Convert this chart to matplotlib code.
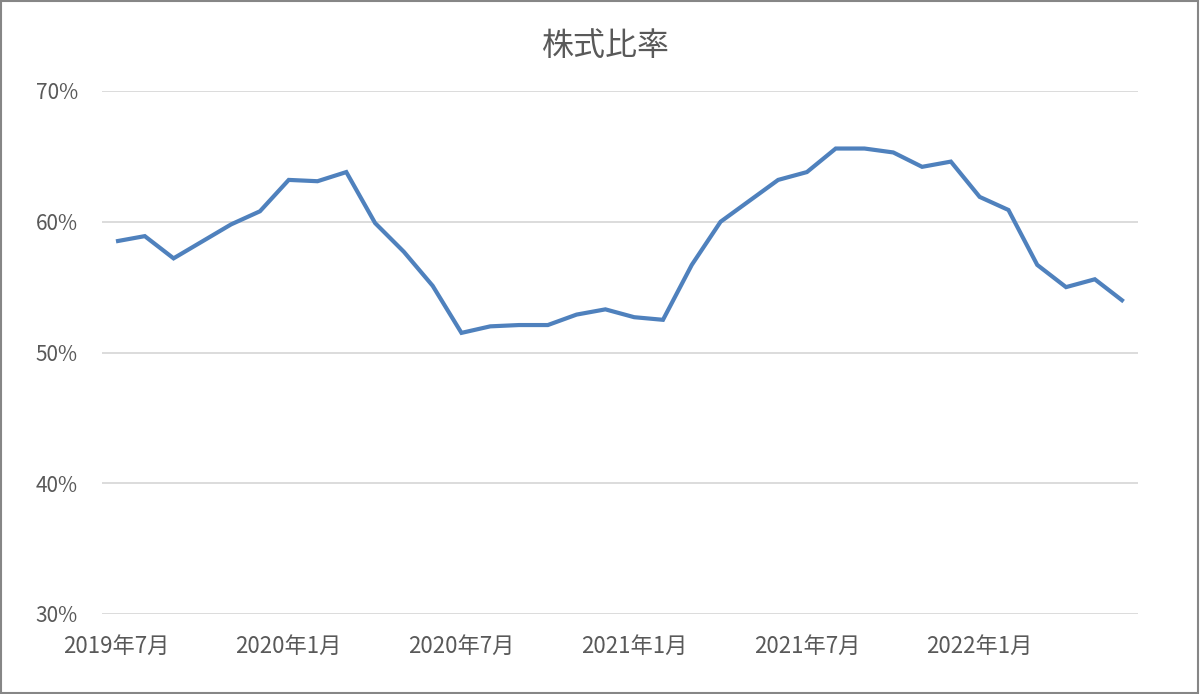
#株式比率 (stock ratio) monthly line chart
import matplotlib
matplotlib.use("Agg")
import matplotlib.pyplot as plt
from matplotlib.ticker import FuncFormatter
from matplotlib.patches import Rectangle

plt.rcParams['font.family'] = ['Noto Sans CJK JP', 'DejaVu Sans']

MONTHS = []                                                     #Stores month labels 2019-07 .. 2022-06
for y in range(2019, 2023):
    for m in range(1, 13):
        if (y == 2019 and m < 7) or (y == 2022 and m > 6):
            continue
        MONTHS.append(f"{y}年{m}月")

RATIO = [58.5, 58.9, 57.2, 58.5, 59.8, 60.8,                    #Stores stock ratio in %
         63.2, 63.1, 63.8, 59.9, 57.7, 55.1,
         51.5, 52.0, 52.1, 52.1, 52.9, 53.3,
         52.7, 52.5, 56.7, 60.0, 61.6, 63.2,
         63.8, 65.6, 65.6, 65.3, 64.2, 64.6,
         61.9, 60.9, 56.7, 55.0, 55.6, 53.9]
YTICKS = [30, 40, 50, 60, 70]

X = list(range(len(MONTHS)))
TEXT = '#595959'

fig = plt.figure(figsize=(12, 6.94), dpi=100)
ax = fig.add_axes([101.6/1200, 80/694, (1138-101.6)/1200, (614-91)/694])

ax.plot(X, RATIO, color='#4F81BD', linewidth=3, solid_joinstyle='miter', solid_capstyle='butt', zorder=3)

ax.set_xlim(-0.5, len(MONTHS) - 0.5)
ax.set_ylim(30, 70)
ax.set_yticks(YTICKS)
ax.yaxis.set_major_formatter(FuncFormatter(lambda v, p: f"{v:.0f}%"))
ax.set_xticks(X[::6])
ax.set_xticklabels(MONTHS[::6])
ax.grid(axis='y', color='#D9D9D9', linewidth=1.3)
ax.set_axisbelow(True)
for s in ax.spines.values():
    s.set_visible(False)
ax.tick_params(axis='both', length=0, colors=TEXT)
ax.tick_params(axis='y', pad=17, labelsize=15)
ax.tick_params(axis='x', pad=15, labelsize=16)

fig.text(606/1200, 1 - 46/694, "株式比率", ha='center', va='center', fontsize=23, color=TEXT)

fig.patches.append(Rectangle((0.001, 0.002), 0.997, 0.996, transform=fig.transFigure,
                             fill=False, edgecolor='#868686', linewidth=1.5))

fig.savefig("out.png", dpi=100)
